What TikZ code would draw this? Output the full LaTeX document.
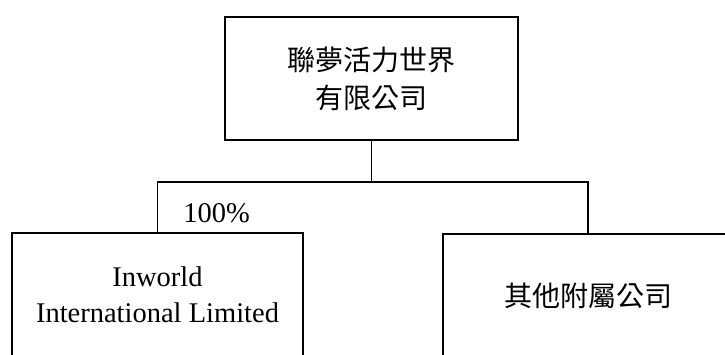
\documentclass[tikz,border=0pt]{standalone}
\usepackage{fontspec}
\setmainfont{Liberation Serif}
\newfontfamily\cjk{Noto Sans CJK TC}
\begin{document}
\begin{tikzpicture}[x=1pt,y=-1pt,
  box/.style={draw, line width=1.5pt, rectangle, minimum height=123pt, inner sep=0pt, align=center},
  conn/.style={line width=1.5pt},
  cjkfont/.style={font=\cjk\fontsize{28}{38}\selectfont},
  latfont/.style={font=\fontsize{28.5}{36}\selectfont}]
\useasboundingbox (0,0) rectangle (725,354);
\clip (0,0) rectangle (725,354);
\node[box, cjkfont, minimum width=293pt] (top) at (371.5,78.5) {聯夢活力世界\\有限公司};
\node[box, latfont, minimum width=291pt] (left) at (157.5,294.5) {Inworld\\International Limited};
\node[box, cjkfont, minimum width=290pt] (right) at (588,295.5) {其他附屬公司};
\coordinate (j) at (371.5,182);
\draw[conn] (top.south) -- (j);
\draw[conn] (left.north) |- (j) -| (right.north);
\node[latfont, anchor=base, inner sep=0pt] (pct) at (216.5,222) {100\%};
\end{tikzpicture}
\end{document}
